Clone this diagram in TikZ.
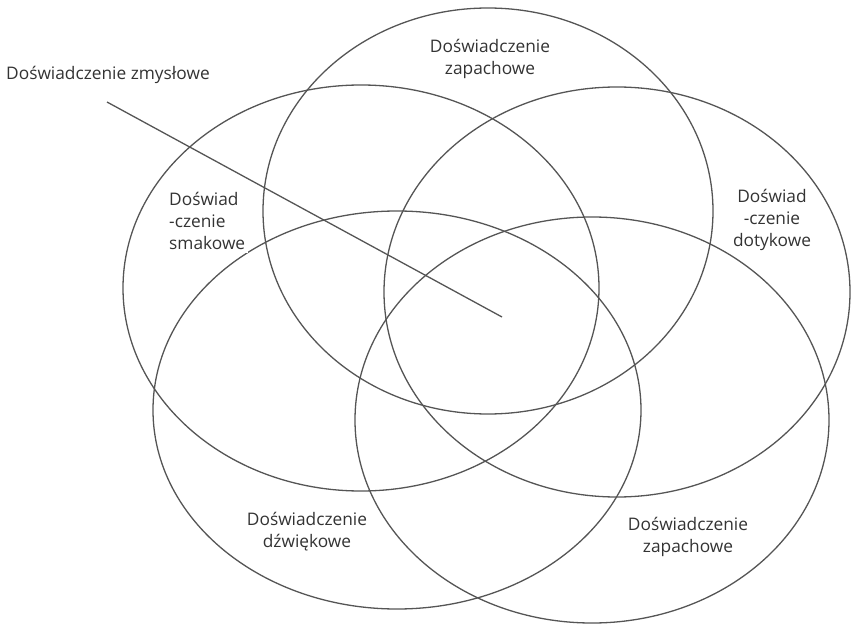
\documentclass[tikz,border=0pt]{standalone}
\usepackage{fontspec}
\setmainfont{Open Sans}
\definecolor{linegray}{HTML}{555555}
\definecolor{textgray}{HTML}{333333}
\begin{document}
\begin{tikzpicture}[x=1pt,y=-1pt,
  ring/.style={draw=linegray, line width=1.3pt},
  pointer/.style={draw=linegray, line width=1.3pt},
  lbl/.style={text=textgray, font=\fontsize{17.3}{22}\selectfont, align=center, inner sep=1pt},
  cutout/.style={lbl, fill=white}]
\useasboundingbox (0,0) rectangle (851,628);

% five overlapping sense regions
\draw[ring] (488,211) ellipse [x radius=225pt, y radius=203pt];
\draw[ring] (361,288) ellipse [x radius=238pt, y radius=203pt];
\draw[ring] (617,292) ellipse [x radius=233pt, y radius=205pt];
\draw[ring] (397,410) ellipse [x radius=244pt, y radius=199pt];
\draw[ring] (592,420) ellipse [x radius=237pt, y radius=203pt];

% region labels
\node[lbl] (smell) at (490,59) {Doświadczenie\\zapachowe};
\node[cutout, align=left, anchor=west, inner sep=3pt] (taste) at (166,221) {Doświad\\-czenie\\smakowe};
\node[cutout, inner sep=3pt] (touch) at (772,220) {Doświad\\-czenie\\dotykowe};
\node[lbl] (sound) at (307,532) {Doświadczenie\\dźwiękowe};
\node[lbl] (smell2) at (688,537) {Doświadczenie\\zapachowe};

% title and its pointer into the common centre
\node[lbl, anchor=west] (title) at (5,75) {Doświadczenie zmysłowe};
\coordinate (ptrstart) at (107,102);
\coordinate (centre) at (502,317);
\draw[pointer] (ptrstart) -- (centre);
\end{tikzpicture}
\end{document}
